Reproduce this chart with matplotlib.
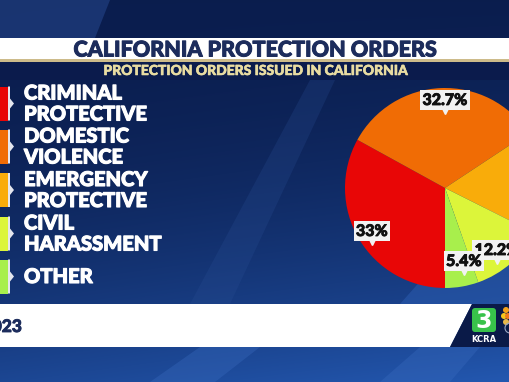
import matplotlib
matplotlib.use("Agg")
import matplotlib.pyplot as plt
from matplotlib.patches import Rectangle, Polygon, FancyBboxPatch, Circle
import matplotlib.patheffects as pe
import numpy as np

# data
categories = ["CRIMINAL\nPROTECTIVE", "DOMESTIC\nVIOLENCE", "EMERGENCY\nPROTECTIVE",
              "CIVIL\nHARASSMENT", "OTHER"]
shares = [33.0, 32.7, 16.7, 12.2, 5.4]
share_labels = ["33%", "32.7%", "16.7%", "12.2%", "5.4%"]
colors = ["#e80606", "#f06c05", "#f9ac0a", "#dcf53a", "#a8ef4c"]

title = "CALIFORNIA PROTECTION ORDERS"
subtitle = "PROTECTION ORDERS ISSUED IN CALIFORNIA"
footer = "2023"

# label spots inside the pie (axes units, radius 1)
label_xy = [(-0.73, -0.43), (0.0, 0.88), (0.9, 0.04), (0.52, -0.62), (0.19, -0.73)]

W, H = 510, 382
fig = plt.figure(figsize=(W / 100, H / 100), dpi=100)

ax = fig.add_axes([0, 0, 1, 1])
ax.set_xlim(0, W)
ax.set_ylim(H, 0)
ax.axis("off")

# background gradient
yy, xx = np.mgrid[0:H, 0:W]
t = 0.12 + 0.6 * (yy / H) ** 2.2 + 0.25 * (xx / W) * (yy / H)
dark = np.array([7, 21, 64]) / 255
light = np.array([36, 90, 180]) / 255
bg = dark + (light - dark) * np.clip(t, 0, 1)[..., None]
ax.imshow(bg, extent=(0, W, H, 0), aspect="auto", zorder=0)

# soft diagonal streaks
ax.add_patch(Polygon([(0, 0), (110, 0), (95, 38), (0, 38)], color="#1d3a7a", alpha=0.8, lw=0, zorder=1))
ax.add_patch(Polygon([(190, 304), (310, 80), (335, 80), (230, 304)], color="#2a4f95", alpha=0.25, lw=0, zorder=1))
ax.add_patch(Polygon([(400, 304), (510, 180), (510, 304)], color="#2f62b8", alpha=0.45, lw=0, zorder=1))
ax.add_patch(Polygon([(150, 382), (200, 347), (260, 347), (215, 382)], color="#3a6cc0", alpha=0.35, lw=0, zorder=1))
ax.add_patch(Polygon([(380, 382), (420, 347), (480, 347), (450, 382)], color="#3a6cc0", alpha=0.35, lw=0, zorder=1))

# title band
ax.add_patch(Rectangle((0, 38), W, 22, color="white", lw=0, zorder=2))
ax.add_patch(Rectangle((0, 59), W, 3, color="#cdbb8a", lw=0, zorder=2))
ax.add_patch(Rectangle((0, 62), W, 18, color="#0b1b4c", lw=0, zorder=2))
ax.text(255, 50, title, ha="center", va="center", fontsize=15.5, fontweight="black",
        family="Lato", color="#1c2c5c", zorder=3,
        path_effects=[pe.withStroke(linewidth=0.7, foreground="#1c2c5c")])
ax.text(255, 71, subtitle, ha="center", va="center", fontsize=10, fontweight="black",
        family="Lato", color="#e9dca2", zorder=3,
        path_effects=[pe.withStroke(linewidth=0.4, foreground="#e9dca2")])

# legend
centers = [103.5, 146.5, 190, 233.5, 276.5]
for lab, c, yc in zip(categories, colors, centers):
    ax.add_patch(Rectangle((0, yc - 17), 8, 34, color=c, lw=0, zorder=3))
    ax.add_patch(Polygon([(8, yc - 17), (10, yc - 17), (10, yc - 5), (14, yc), (10, yc + 5),
                          (10, yc + 17), (8, yc + 17)], color="#e4e6ee", lw=0, zorder=3))
    lines = lab.split("\n")
    offs = [0] if len(lines) == 1 else [-10.5, 10.5]
    for line, dy in zip(lines, offs):
        ax.text(24, yc + dy, line, ha="left", va="center", fontsize=14.5, fontweight="black",
                family="Lato", color="white", zorder=3,
                path_effects=[pe.withStroke(linewidth=0.8, foreground="white")])

# footer band + logo
ax.add_patch(Polygon([(0, 304), (472, 304), (450, 347), (0, 347)], color="white", lw=0, zorder=2))
ax.add_patch(Polygon([(472, 304), (510, 304), (510, 347), (450, 347)], color="#0a1a48", lw=0, zorder=2))
ax.text(22, 327, footer, ha="right", va="center", fontsize=12.5, fontweight="black",
        family="Lato", color="#1c2c5c", zorder=3,
        path_effects=[pe.withStroke(linewidth=0.6, foreground="#1c2c5c")])
ax.add_patch(FancyBboxPatch((472, 308), 24, 24, boxstyle="round,pad=0,rounding_size=3",
                            color="#38c24a", lw=0, zorder=3))
ax.text(484, 320.5, "3", ha="center", va="center", fontsize=17, fontweight="bold",
        family="DejaVu Sans", color="white", zorder=4)
ax.text(484, 340, "KCRA", ha="center", va="center", fontsize=6, fontweight="bold",
        family="DejaVu Sans", color="white", zorder=4)
for (px, py), pc in zip([(506, 310), (504, 316), (508, 316), (506, 322)],
                        ["#f5a21c", "#f7c51e", "#f07a1c", "#e9b84a"]):
    ax.add_patch(Circle((px, py), 3, color=pc, lw=0, zorder=3))
ax.add_patch(Circle((510, 328), 5, fill=False, ec="#9aa7c4", lw=0.8, zorder=3))

# pie
pax = fig.add_axes([345 / W, (H - 288) / H, 200 / W, 200 / H])
pax.pie(shares, colors=colors, startangle=-90, counterclock=False,
        wedgeprops=dict(linewidth=0))
pax.set_xlim(-1, 1)
pax.set_ylim(-1, 1)
pax.axis("off")
for lab, (lx, ly) in zip(share_labels, label_xy):
    pax.text(lx, ly, lab, ha="center", va="center", fontsize=11.5, fontweight="black",
             family="Lato", color="#111111", zorder=5,
             path_effects=[pe.withStroke(linewidth=0.6, foreground="#111111")],
             bbox=dict(boxstyle="square,pad=0.15", fc="#f2f2f2", ec="none"))
    pax.plot(lx, ly - 0.11, marker="v", ms=4, color="#f2f2f2", zorder=4, clip_on=False)

fig.savefig("out.png", dpi=100)
